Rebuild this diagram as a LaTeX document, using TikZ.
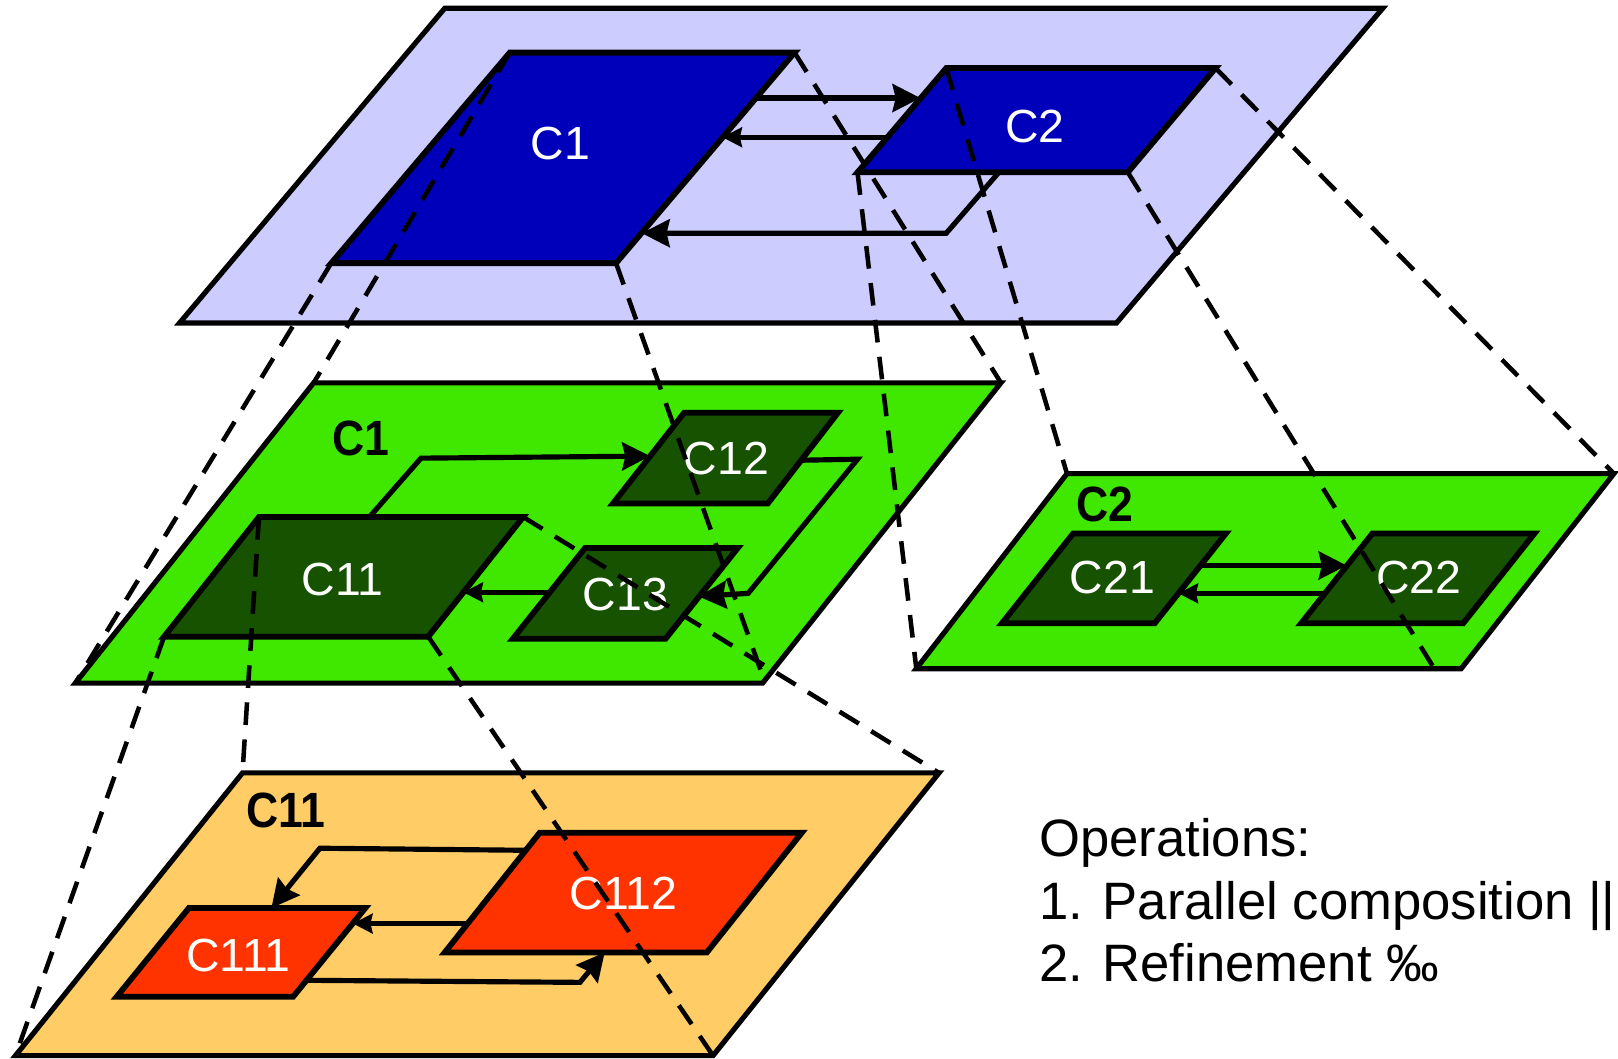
\documentclass[tikz,border=0pt]{standalone}
\usepackage{fontspec}
\setmainfont{Liberation Sans}
\newfontfamily\condfont[FakeStretch=0.9]{Liberation Sans}
\usetikzlibrary{arrows.meta}
\definecolor{lav}{HTML}{CCCCFF}
\definecolor{dblue}{HTML}{0000BB}
\definecolor{lgreen}{HTML}{40E800}
\definecolor{dgreen}{HTML}{175200}
\definecolor{lorange}{HTML}{FFCC66}
\definecolor{dred}{HTML}{FF3300}
\newcommand\mypgram[6]{%
  \coordinate (#1-tl) at (#3);
  \coordinate (#1-tr) at (#4);
  \coordinate (#1-br) at (#5);
  \coordinate (#1-bl) at (#6);
  \draw[#2] (#1-tl) -- (#1-tr) -- (#1-br) -- (#1-bl) -- cycle;}
\begin{document}
\begin{tikzpicture}[x=1pt,y=-1pt,
  plane/.style={draw=black,line width=5pt,line join=miter},
  block/.style={draw=black,line width=5.6pt,line join=miter},
  arr/.style={draw=black,line width=5pt,line join=miter,-{Stealth[length=27pt,width=27pt,inset=3pt]}},
  sarr/.style={draw=black,line width=5pt,line join=miter,-{Stealth[length=19pt,width=19pt,inset=2pt]}},
  proj/.style={draw=black,line width=4.4pt,dash pattern=on 22pt off 14pt},
  lbl/.style={text=white,inner sep=0pt,font=\fontsize{45}{48}\selectfont},
  plbl/.style={text=black,inner sep=0pt,font=\condfont\bfseries\fontsize{48}{52}\selectfont},
  optxt/.style={anchor=base west,inner sep=0pt,font=\fontsize{51}{60}\selectfont}]
\useasboundingbox (0,0) rectangle (1568,1026);

% ---------- top plane ----------
\mypgram{p0}{plane,fill=lav}{431,8}{1340,8}{1082,313}{174,313}
\mypgram{tc1}{block,fill=dblue}{494,51}{770,51}{597,255}{321,255}
\mypgram{tc2}{block,fill=dblue}{917,66}{1178,66}{1093,167}{831,167}
\node[lbl] (l-tc1) at (543,139) {C1};
\node[lbl] (l-tc2) at (1003,123) {C2};
\coordinate (a1s) at (733,95);  \coordinate (a1e) at (892,95);
\coordinate (a2s) at (860,133); \coordinate (a2e) at (700,133);
\coordinate (a3s) at (968,167); \coordinate (a3m) at (917,226); \coordinate (a3e) at (622,226);
\draw[arr] (a1s) -- (a1e);
\draw[sarr] (a2s) -- (a2e);
\draw[arr] (a3s) -- (a3m) -- (a3e);

% ---------- green plane C1 ----------
\mypgram{g1}{plane,fill=lgreen}{304,371}{970,371}{739,662}{73,662}
\mypgram{c11}{block,fill=dgreen}{251,501}{507,501}{415,617}{159,617}
\mypgram{c12}{block,fill=dgreen}{663,400}{812,400}{744,488}{594,488}
\mypgram{c13}{block,fill=dgreen}{567,531}{715,531}{645,619}{497,619}
\node[plbl] (l-g1) at (350,425) {C1};
\node[lbl] (l-c11) at (332,562) {C11};
\node[lbl] (l-c12) at (704,444) {C12};
\node[lbl] (l-c13) at (606,576) {C13};
\coordinate (b1s) at (358,501); \coordinate (b1m) at (408,444); \coordinate (b1e) at (630,442);
\coordinate (b2s) at (777,446); \coordinate (b2m) at (831,445); \coordinate (b2n) at (725,575); \coordinate (b2e) at (677,578);
\coordinate (b3s) at (532,574); \coordinate (b3e) at (449,574);
\draw[arr] (b1s) -- (b1m) -- (b1e);
\draw[arr] (b2s) -- (b2m) -- (b2n) -- (b2e);
\draw[sarr] (b3s) -- (b3e);

% ---------- green plane C2 ----------
\mypgram{g2}{plane,fill=lgreen}{1034,459}{1564,459}{1416,648}{888,648}
\mypgram{c21}{block,fill=dgreen}{1040,517}{1188,517}{1119,604}{971,604}
\mypgram{c22}{block,fill=dgreen}{1330,517}{1487,517}{1418,604}{1261,604}
\node[plbl] (l-g2) at (1071,489) {C2};
\node[lbl] (l-c21) at (1078,560) {C21};
\node[lbl] (l-c22) at (1375,560) {C22};
\coordinate (d1s) at (1164,548); \coordinate (d1e) at (1305,548);
\coordinate (d2s) at (1285,575); \coordinate (d2e) at (1142,575);
\draw[arr] (d1s) -- (d1e);
\draw[sarr] (d2s) -- (d2e);

% ---------- orange plane C11 ----------
\mypgram{o1}{plane,fill=lorange}{235,749}{910,749}{691,1023}{15,1023}
\mypgram{c111}{block,fill=dred}{183,880}{354,880}{284,966}{113,966}
\mypgram{c112}{block,fill=dred}{523,807}{777,807}{685,923}{431,923}
\node[plbl] (l-o1) at (277,785) {C11};
\node[lbl] (l-c111) at (231,926) {C111};
\node[lbl] (l-c112) at (604,866) {C112};
\coordinate (e1s) at (509,824); \coordinate (e1m) at (310,822); \coordinate (e1e) at (263,880);
\coordinate (e2s) at (453,895); \coordinate (e2e) at (342,895);
\coordinate (e3s) at (297,950); \coordinate (e3m) at (562,952); \coordinate (e3e) at (586,923);
\draw[arr] (e1s) -- (e1m) -- (e1e);
\draw[sarr] (e2s) -- (e2e);
\draw[arr] (e3s) -- (e3m) -- (e3e);

% ---------- projection lines ----------
\coordinate (g1-bre) at (738,652);
\coordinate (g2-be) at (1390,648);
\draw[proj] (tc1-tl) -- (g1-tl);
\draw[proj] (tc1-tr) -- (g1-tr);
\draw[proj] (tc1-br) -- (g1-bre);
\draw[proj] (tc1-bl) -- (g1-bl);
\draw[proj] (tc2-tl) -- (g2-tl);
\draw[proj] (tc2-tr) -- (g2-tr);
\draw[proj] (tc2-br) -- (g2-be);
\draw[proj] (tc2-bl) -- (g2-bl);
\draw[proj] (c11-tl) -- (o1-tl);
\draw[proj] (c11-tr) -- (o1-tr);
\draw[proj] (c11-br) -- (o1-br);
\draw[proj] (c11-bl) -- (o1-bl);

% ---------- operations text ----------
\node[optxt] (op0) at (1007,830) {Operations:};
\node[optxt] (op1) at (1007,891) {1. Parallel composition ||};
\node[optxt] (op2) at (1007,951) {2. Refinement ‰};
\end{tikzpicture}
\end{document}
